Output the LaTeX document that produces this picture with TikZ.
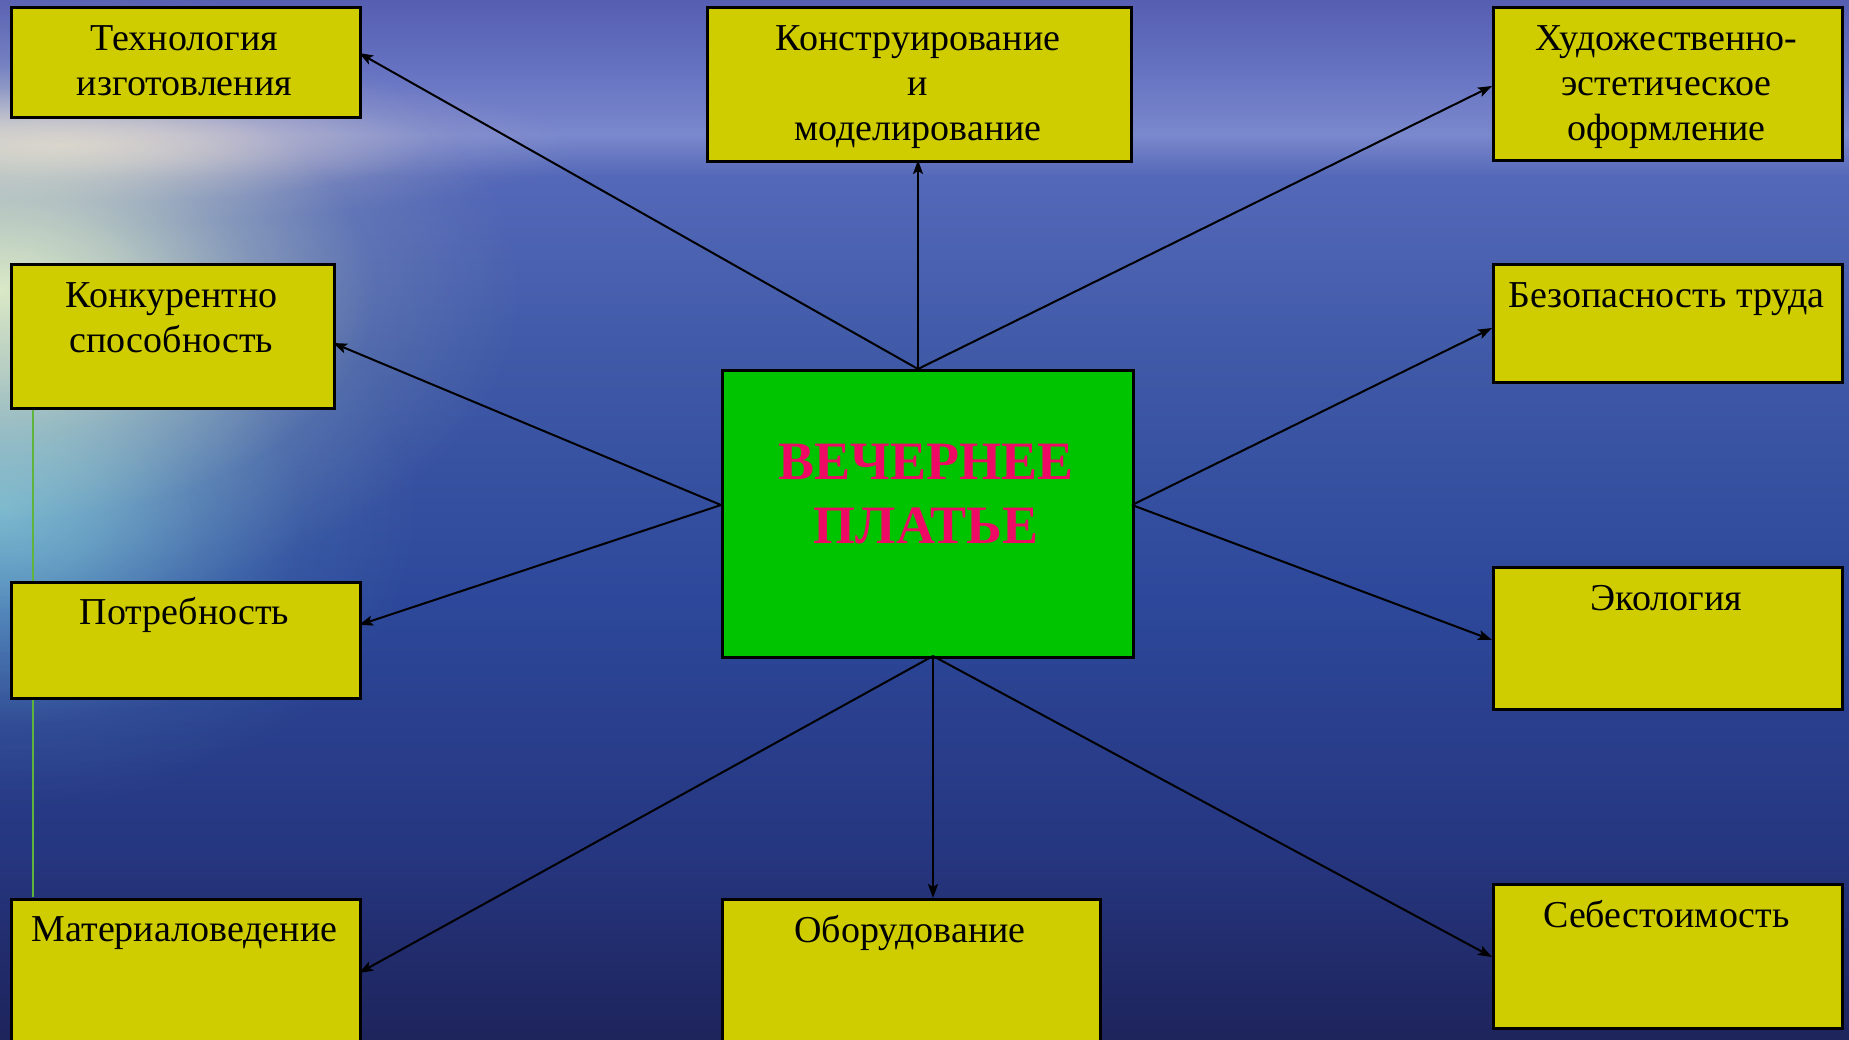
\documentclass[tikz,border=0pt]{standalone}
\usepackage{fontspec}
\setmainfont{Liberation Serif}
\usetikzlibrary{arrows.meta,fadings}
\definecolor{boxyellow}{RGB}{207,205,0}
\definecolor{centergreen}{RGB}{0,196,0}
\definecolor{titlered}{RGB}{238,10,100}
\definecolor{thinline}{RGB}{95,180,60}
\definecolor{s1}{RGB}{30,36,92}
\definecolor{s2}{RGB}{38,54,128}
\definecolor{s3}{RGB}{45,72,154}
\definecolor{s4}{RGB}{64,90,168}
\definecolor{s5}{RGB}{84,104,184}
\definecolor{s6}{RGB}{122,136,204}
\definecolor{s7}{RGB}{100,112,192}
\definecolor{s8}{RGB}{86,94,178}
\definecolor{glowA}{RGB}{226,240,200}
\definecolor{glowB}{RGB}{118,194,216}
\definecolor{glowC}{RGB}{232,210,210}
\pgfdeclareverticalshading{sea}{100bp}{color(0bp)=(s1); color(25bp)=(s1); color(34bp)=(s2); color(46bp)=(s3); color(58bp)=(s4); color(66.5bp)=(s5); color(68.5bp)=(s6); color(72bp)=(s7); color(75bp)=(s8); color(100bp)=(s8)}
\pgfdeclareradialshading{glowshade}{\pgfpointorigin}{color(0bp)=(white); color(6bp)=(white!75!black); color(12bp)=(white!40!black); color(18bp)=(white!12!black); color(25bp)=(black); color(50bp)=(black)}
\pgfdeclarefading{softglow}{\pgfuseshading{glowshade}}
\begin{document}
\begin{tikzpicture}[x=1pt,y=-1pt,
  box/.style={draw=black, line width=3pt, fill=boxyellow, anchor=north west, inner sep=0pt},
  lbl/.style={anchor=north, align=center, inner sep=0pt, text=black, font=\fontsize{38}{45}\selectfont},
  conn/.style={draw=black, line width=2pt, -{Stealth[length=14pt,width=10pt,inset=3pt]}},
]
\useasboundingbox (0,0) rectangle (1849,1039);
\begin{scope}
\clip (0,0) rectangle (1849,1039);
% background
\shade[shading=sea] (0,0) rectangle (1849,1039);
\fill[glowC, opacity=0.85, path fading=softglow] (60,145) ellipse (520pt and 80pt);
\fill[glowB, opacity=0.85, path fading=softglow] (0,510) ellipse (420pt and 300pt);
\fill[glowA, opacity=0.95, path fading=softglow] (0,290) ellipse (520pt and 320pt);

% thin green line
\coordinate (g1) at (33,407);
\coordinate (g2) at (33,897);
\draw[thinline, line width=1.2pt] (g1) -- (g2);

% boxes
\node[box, minimum width=349pt, minimum height=110pt] (tech) at (10,6) {};
\node[box, minimum width=424pt, minimum height=154pt] (konstr) at (706,6) {};
\node[box, minimum width=349pt, minimum height=153pt] (hud) at (1492,6) {};
\node[box, minimum width=323pt, minimum height=144pt] (konk) at (10,263) {};
\node[box, minimum width=349pt, minimum height=118pt] (bez) at (1492,263) {};
\node[box, minimum width=349pt, minimum height=116pt] (potr) at (10,581) {};
\node[box, minimum width=349pt, minimum height=142pt] (eko) at (1492,566) {};
\node[box, minimum width=349pt, minimum height=180pt] (mat) at (10,898) {};
\node[box, minimum width=378pt, minimum height=180pt] (obor) at (721,898) {};
\node[box, minimum width=349pt, minimum height=144pt] (seb) at (1492,883) {};
\node[draw=black, line width=3pt, fill=centergreen, anchor=north west, inner sep=0pt, minimum width=411pt, minimum height=287pt] (center) at (721,369) {};

% labels
\node[lbl] (techT) at (184.5,18) {\rule{0pt}{32pt}Технология\\изготовления};
\node[lbl] (konstrT) at (918,18) {\rule{0pt}{32pt}Конструирование\\и\\моделирование};
\node[lbl] (hudT) at (1666.5,18) {\rule{0pt}{32pt}Художественно-\\эстетическое\\оформление};
\node[lbl] (konkT) at (171.5,275) {\rule{0pt}{32pt}Конкурентно\\способность};
\node[lbl] (bezT) at (1666.5,275) {\rule{0pt}{32pt}Безопасность труда};
\node[lbl] (potrT) at (184.5,592) {\rule{0pt}{32pt}Потребность};
\node[lbl] (ekoT) at (1666.5,578) {\rule{0pt}{32pt}Экология};
\node[lbl] (matT) at (184.5,909) {\rule{0pt}{32pt}Материаловедение};
\node[lbl] (oborT) at (910,910) {\rule{0pt}{32pt}Оборудование};
\node[lbl] (sebT) at (1666.5,895) {\rule{0pt}{32pt}Себестоимость};
\node[anchor=north, align=center, inner sep=0pt, text=titlered, font=\fontsize{54}{64}\selectfont\bfseries] (title) at (926,439) {\rule{0pt}{40pt}ВЕЧЕРНЕЕ\\ПЛАТЬЕ};

% connector points
\coordinate (cT) at (918,369);
\coordinate (cB) at (933,656);
\coordinate (cL) at (721,505);
\coordinate (cR) at (1132,505);
\coordinate (aTech) at (359,53);
\coordinate (aKonstr) at (918,160);
\coordinate (aHud) at (1492,86);
\coordinate (aKonk) at (333,343);
\coordinate (aPotr) at (359,625);
\coordinate (aBez) at (1492,328);
\coordinate (aEko) at (1492,640);
\coordinate (aMat) at (359,973);
\coordinate (aObor) at (933,898);
\coordinate (aSeb) at (1492,957);

\draw[conn] (cT) -- (aTech);
\draw[conn] (cT) -- (aKonstr);
\draw[conn] (cT) -- (aHud);
\draw[conn] (cL) -- (aKonk);
\draw[conn] (cL) -- (aPotr);
\draw[conn] (cR) -- (aBez);
\draw[conn] (cR) -- (aEko);
\draw[conn] (cB) -- (aMat);
\draw[conn] (cB) -- (aObor);
\draw[conn] (cB) -- (aSeb);
\end{scope}
\end{tikzpicture}
\end{document}
